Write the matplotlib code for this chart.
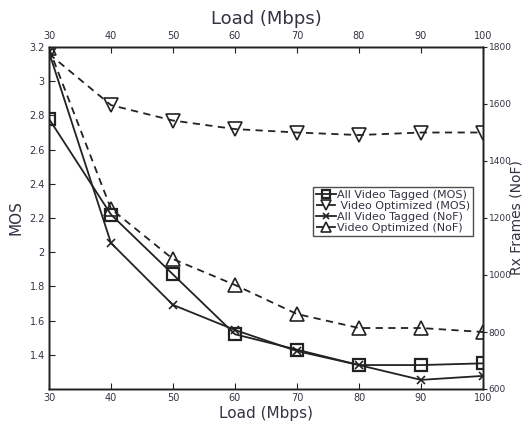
import matplotlib
matplotlib.use("Agg")
import matplotlib.pyplot as plt

load = [30, 40, 50, 60, 70, 80, 90, 100]
mos_tagged = [2.78, 2.22, 1.87, 1.52, 1.43, 1.34, 1.34, 1.35]
mos_optimized = [3.16, 2.86, 2.77, 2.72, 2.70, 2.685, 2.70, 2.70]
nof_tagged = [1782, 1112, 895, 807, 733, 684, 632, 646]
nof_optimized = [1795, 1232, 1056, 965, 863, 814, 814, 800]

x_ticks = [30, 40, 50, 60, 70, 80, 90, 100]
mos_ticks = [1.4, 1.6, 1.8, 2.0, 2.2, 2.4, 2.6, 2.8, 3.0, 3.2]
mos_tick_labels = ["1.4", "1.6", "1.8", "2", "2.2", "2.4", "2.6", "2.8", "3", "3.2"]
nof_ticks = [600, 800, 1000, 1200, 1400, 1600, 1800]

labels = ["All Video Tagged (MOS)", " Video Optimized (MOS)",
          "All Video Tagged (NoF)", "Video Optimized (NoF)"]

lc = "#222222"
tc = "#333344"

fig = plt.figure(figsize=(5.26, 4.22), dpi=100)
ax = fig.add_axes([49/526, 1-389/422, (483-49)/526, (389-47)/422])
ax2 = ax.twinx()
ax3 = ax.twiny()

ms = 9
l1, = ax.plot(load, mos_tagged, '-', color=lc, lw=1.3, marker='s', ms=ms,
              mfc='none', mec=lc, mew=1.6)
l2, = ax.plot(load, mos_optimized, '--', color=lc, lw=1.3, marker='v', ms=ms+1,
              mfc='none', mec=lc, mew=1.2, dashes=(4, 3))
l3, = ax2.plot(load, nof_tagged, '-', color=lc, lw=1.3, marker='x', ms=6,
               mec=lc, mew=1.2)
l4, = ax2.plot(load, nof_optimized, '--', color=lc, lw=1.3, marker='^', ms=ms+1,
               mfc='none', mec=lc, mew=1.2, dashes=(4, 3))

ax.set_xlim(30, 100)
ax.set_ylim(1.2, 3.2)
ax2.set_ylim(600, 1800)
ax3.set_xlim(30, 100)

ax.set_xticks(x_ticks)
ax.set_xticklabels([str(v) for v in x_ticks])
ax3.set_xticks(x_ticks)
ax3.set_xticklabels([str(v) for v in x_ticks])
ax.set_yticks(mos_ticks)
ax.set_yticklabels(mos_tick_labels)
ax2.set_yticks(nof_ticks)
ax2.set_yticklabels([str(v) for v in nof_ticks])

for a in (ax, ax2, ax3):
    a.tick_params(direction='in', length=4, width=0.8, labelsize=7,
                  labelcolor=tc, colors=lc, pad=3)
    for s in a.spines.values():
        s.set_color(lc)
        s.set_linewidth(1.0)
ax2.tick_params(axis='y', direction='out', length=3, pad=1, labelsize=6.5)
ax3.tick_params(axis='x', pad=4)

ax.set_xlabel("Load (Mbps)", fontsize=11, color=tc, labelpad=2)
ax3.set_xlabel("Load (Mbps)", fontsize=13, color=tc, labelpad=5)
ax.set_ylabel("MOS", fontsize=11, color=tc, labelpad=4)
ax2.set_ylabel("Rx Frames (NoF)", fontsize=10, color=tc, va='center')
ax2.yaxis.set_label_coords((517 - 49) / 434, 0.5)

leg = fig.legend([l1, l2, l3, l4], labels,
                 loc='upper left', bbox_to_anchor=(313/526, 1-187/422),
                 fontsize=8, frameon=True, fancybox=False, handlelength=1.8,
                 handletextpad=0.1, borderpad=0.25, labelspacing=0.1,
                 borderaxespad=0, markerscale=0.65)
leg.get_frame().set_edgecolor(lc)
leg.get_frame().set_linewidth(1.0)
for t in leg.get_texts():
    t.set_color(tc)

fig.savefig("out.png", dpi=100)
